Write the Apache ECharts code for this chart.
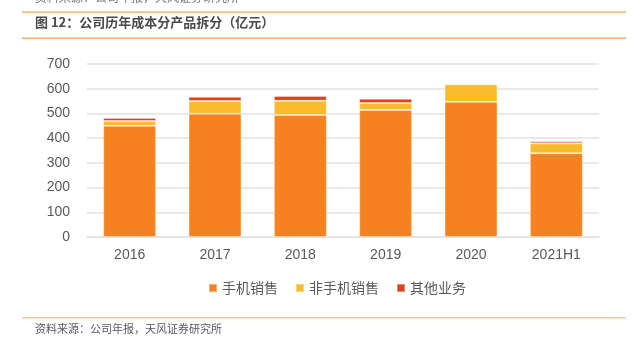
<!DOCTYPE html>
<html><head><meta charset="utf-8">
<script src="https://cdn.jsdelivr.net/npm/echarts@6/dist/echarts.min.js"></script>
<style>html,body{margin:0;padding:0;background:#fff}#c{width:633px;height:347px}</style>
</head><body><div id="c"></div>
<script>
const categories = ['2016','2017','2018','2019','2020','2021H1'];
const phoneSales = [450, 499, 494, 514, 547, 339];
const nonPhoneSales = [19, 51, 57, 28, 71, 40];
const otherBusiness = [13, 17, 20, 17, 1, 8];
const yTicks = [0, 100, 200, 300, 400, 500, 600, 700];
const seriesNames = ['手机销售', '非手机销售', '其他业务'];
const colors = ['#F5821F', '#F9BB2B', '#E0401E'];

const font = '"Noto Sans CJK SC", "Noto Sans", sans-serif';
const chart = echarts.init(document.getElementById('c'));
const mk = (name, data, i) => ({
  name, type: 'bar', stack: 'total', data, barWidth: '62%',
  itemStyle: { color: colors[i], borderColor: 'rgba(255,255,255,0.35)', borderWidth: 1 }
});
chart.setOption({
  animation: false,
  color: colors,
  textStyle: { fontFamily: font },
  grid: { left: 87, right: 34, top: 64, bottom: 110, containLabel: false },
  xAxis: {
    type: 'category', data: categories,
    axisLine: { lineStyle: { color: '#e2e2e2', width: 1.5 } },
    axisTick: { show: false },
    axisLabel: { color: '#595959', fontSize: 14, margin: 11, fontFamily: 'Liberation Sans, Arial, sans-serif' }
  },
  yAxis: {
    type: 'value', min: yTicks[0], max: yTicks[yTicks.length - 1], interval: 100,
    axisLine: { show: false }, axisTick: { show: false },
    splitLine: { lineStyle: { color: '#e2e2e2', width: 1.5 } },
    axisLabel: { color: '#595959', fontSize: 14, margin: 17, fontFamily: 'Liberation Sans, Arial, sans-serif' }
  },
  legend: {
    data: seriesNames, left: 203, top: 276, itemWidth: 8, itemHeight: 8, icon: 'rect',
    itemGap: 17, textStyle: { color: '#595959', fontSize: 14, fontFamily: font }
  },
  series: [mk(seriesNames[0], phoneSales, 0), mk(seriesNames[1], nonPhoneSales, 1), mk(seriesNames[2], otherBusiness, 2)],
  graphic: [
    { type: 'text', left: 35, top: -9, style: { text: '资料来源：公司年报，天风证券研究所', fill: '#7a7a7a', font: '12px ' + font } },
    { type: 'rect', shape: { x: 22, y: 11.5, width: 604, height: 1.2 }, style: { fill: '#F7A04A' } },
    { type: 'text', left: 35, top: 16, style: { text: '图 12：公司历年成本分产品拆分（亿元）', fill: '#4a4a4a', font: 'bold 13px ' + font } },
    { type: 'rect', shape: { x: 22, y: 37.5, width: 604, height: 1.2 }, style: { fill: '#F7A04A' } },
    { type: 'rect', shape: { x: 22, y: 317, width: 604, height: 1.5 }, style: { fill: '#FCCB9C' } },
    { type: 'text', left: 35, top: 323, style: { text: '资料来源：公司年报，天风证券研究所', fill: '#595959', font: '11px ' + font } }
  ]
});
</script></body></html>
